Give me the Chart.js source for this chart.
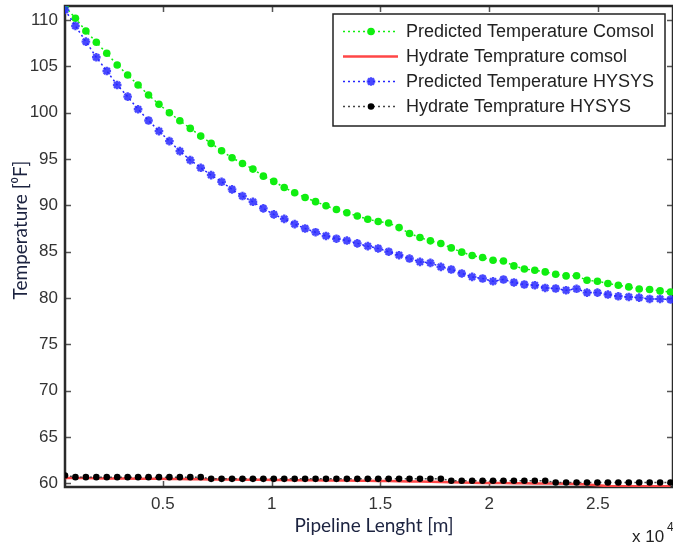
<!DOCTYPE html>
<html>
<head>
<meta charset="utf-8">
<script src="https://cdn.jsdelivr.net/npm/chart.js@4.4.1/dist/chart.umd.min.js"></script>
<style>
  body { margin: 0; background: #fff; }
  #wrap { width: 673px; height: 545px; }
</style>
</head>
<body>
<div id="wrap"><canvas id="chart" width="673" height="545"></canvas></div>
<script>
// distancia a lo largo de la tuberia [m]
const pipeLength = [500, 980, 1460, 1940, 2420, 2900, 3380, 3860, 4340, 4820,
  5300, 5780, 6260, 6740, 7220, 7700, 8180, 8660, 9140, 9620,
  10100, 10580, 11060, 11540, 12020, 12500, 12980, 13460, 13940, 14420,
  14900, 15380, 15860, 16340, 16820, 17300, 17780, 18260, 18740, 19220,
  19700, 20180, 20660, 21140, 21620, 22100, 22580, 23060, 23540, 24020,
  24500, 24980, 25460, 25940, 26420, 26900, 27380, 27860, 28340];

const tempComsol = [111.44, 110.18, 108.81, 107.59, 106.40, 105.14, 104.06, 102.98, 101.90, 100.90,
  99.99, 99.13, 98.30, 97.47, 96.68, 95.88, 95.13, 94.52, 93.91, 93.15,
  92.58, 91.93, 91.35, 90.85, 90.4, 89.95, 89.55, 89.2, 88.85, 88.5,
  88.25, 88.1, 87.6, 86.97, 86.53, 86.17, 85.89, 85.41, 84.95, 84.59,
  84.37, 84.08, 84.0, 83.47, 83.14, 83.0, 82.82, 82.57, 82.39, 82.4,
  81.92, 81.81, 81.57, 81.38, 81.2, 80.98, 80.92, 80.77, 80.66];

const hydrateComsol = [60.6, 60.6, 60.58, 60.56, 60.55, 60.54, 60.53, 60.52, 60.5, 60.5,
  60.48, 60.47, 60.46, 60.45, 60.44, 60.43, 60.42, 60.41, 60.4, 60.39,
  60.38, 60.37, 60.36, 60.35, 60.34, 60.33, 60.32, 60.31, 60.3, 60.29,
  60.28, 60.26, 60.24, 60.22, 60.2, 60.18, 60.15, 60.12, 60.1, 60.08,
  60.06, 60.05, 60.04, 60.03, 60.02, 60.01, 60.0, 60.0, 59.98, 59.95,
  59.9, 59.8, 59.72, 59.7, 59.7, 59.7, 59.7, 59.7, 59.7];

const tempHysys = [111.08, 109.35, 107.66, 105.97, 104.49, 102.98, 101.72, 100.36, 99.15, 98.0,
  96.93, 95.85, 94.88, 94.05, 93.26, 92.54, 91.72, 91.0, 90.38, 89.67,
  89.02, 88.54, 87.97, 87.5, 87.1, 86.7, 86.4, 86.2, 85.9, 85.6,
  85.35, 85.0, 84.62, 84.26, 83.90, 83.79, 83.36, 83.08, 82.65, 82.28,
  82.11, 81.81, 82.0, 81.68, 81.46, 81.38, 81.09, 81.03, 80.84, 81.0,
  80.59, 80.59, 80.38, 80.19, 80.12, 80.05, 79.9, 79.9, 79.84];

const hydrateHysys = [60.86, 60.68, 60.68, 60.68, 60.68, 60.68, 60.68, 60.68, 60.68, 60.68,
  60.68, 60.68, 60.68, 60.68, 60.5, 60.5, 60.5, 60.5, 60.5, 60.5,
  60.5, 60.5, 60.5, 60.5, 60.5, 60.5, 60.5, 60.5, 60.5, 60.5,
  60.5, 60.5, 60.5, 60.5, 60.5, 60.5, 60.5, 60.3, 60.3, 60.3,
  60.3, 60.3, 60.3, 60.3, 60.3, 60.3, 60.3, 60.1, 60.1, 60.1,
  60.1, 60.1, 60.1, 60.1, 60.1, 60.1, 60.1, 60.1, 60.1];

const xTicks = [5000, 10000, 15000, 20000, 25000];
const xTickLabels = ['0.5', '1', '1.5', '2', '2.5'];
const yTicks = [60, 65, 70, 75, 80, 85, 90, 95, 100, 105, 110];

const seriesLabels = ['Predicted Temperature Comsol', 'Hydrate Temprature comsol',
  'Predicted Temperature HYSYS', 'Hydrate Temprature HYSYS'];

const puntos = (arr) => pipeLength.map((x, i) => ({ x: x, y: arr[i] }));

const GREEN = '#10ee10';
const RED = 'rgb(255,70,70)';
const BLUE = '#2424ff';
const BLACK = '#000000';

// marco estilo matlab, ticks hacia adentro, leyenda y titulos
const marco = {
  id: 'marco',
  beforeDatasetsDraw(chart) {
    const { ctx, chartArea: a, scales: { x, y } } = chart;
    ctx.save();
    ctx.strokeStyle = '#555';
    ctx.lineWidth = 1.5;
    ctx.beginPath();
    xTicks.forEach(v => {
      const px = Math.round(x.getPixelForValue(v)) + 0.5;
      ctx.moveTo(px, a.bottom); ctx.lineTo(px, a.bottom - 6);
      ctx.moveTo(px, a.top); ctx.lineTo(px, a.top + 6);
    });
    yTicks.forEach(v => {
      const py = Math.round(y.getPixelForValue(v)) + 0.5;
      ctx.moveTo(a.left, py); ctx.lineTo(a.left + 6, py);
      ctx.moveTo(a.right, py); ctx.lineTo(a.right - 6, py);
    });
    ctx.stroke();
    ctx.strokeStyle = '#2a2a2a';
    ctx.lineWidth = 2.5;
    ctx.strokeRect(a.left, a.top, a.right - a.left, a.bottom - a.top);
    ctx.restore();
  },
  afterDraw(chart) {
    const { ctx } = chart;
    ctx.save();
    // leyenda
    const lx = 333, ly = 14, lw = 332, lh = 112;
    ctx.fillStyle = '#fff';
    ctx.fillRect(lx, ly, lw, lh);
    ctx.strokeStyle = '#222';
    ctx.lineWidth = 1.5;
    ctx.strokeRect(lx, ly, lw, lh);
    chart.data.datasets.forEach((ds, k) => {
      const ry = 31.5 + 25 * k;
      ctx.strokeStyle = ds.borderColor;
      ctx.lineWidth = ds.borderWidth;
      ctx.setLineDash(ds.borderDash || []);
      ctx.beginPath();
      ctx.moveTo(343, ry); ctx.lineTo(398, ry);
      ctx.stroke();
      ctx.setLineDash([]);
      if (ds.pointRadius > 0) {
        if (ds.pointStyle === 'star') {
          const r = ds.pointRadius;
          ctx.strokeStyle = ds.pointBorderColor;
          ctx.lineWidth = ds.pointBorderWidth;
          ctx.beginPath();
          for (let j = 0; j < 4; j++) {
            const ang = j * Math.PI / 4;
            ctx.moveTo(371 - r * Math.cos(ang), ry - r * Math.sin(ang));
            ctx.lineTo(371 + r * Math.cos(ang), ry + r * Math.sin(ang));
          }
          ctx.stroke();
        } else {
          ctx.fillStyle = ds.pointBackgroundColor;
          ctx.beginPath();
          ctx.arc(371, ry, ds.pointRadius, 0, Math.PI * 2);
          ctx.fill();
        }
      }
      ctx.fillStyle = '#222';
      ctx.font = '18px "Liberation Sans", Arial, sans-serif';
      ctx.textBaseline = 'middle';
      ctx.textAlign = 'left';
      ctx.fillText(ds.label, 406, ry + 1);
    });

    // titulos de ejes
    ctx.fillStyle = '#1c2340';
    ctx.font = '19px Lato, "Open Sans", sans-serif';
    ctx.textAlign = 'center';
    ctx.textBaseline = 'middle';
    ctx.fillText('Pipeline Lenght [m]', 374, 526);
    ctx.save();
    ctx.translate(21, 230);
    ctx.rotate(-Math.PI / 2);
    ctx.fillText('Temperature [\u2070F]', 0, 0);
    ctx.restore();

    // factor de escala del eje x
    ctx.fillStyle = '#222';
    ctx.font = '17px "Liberation Sans", Arial, sans-serif';
    ctx.textAlign = 'left';
    ctx.textBaseline = 'alphabetic';
    ctx.fillText('x 10', 632, 542);
    ctx.font = '12px "Liberation Sans", Arial, sans-serif';
    ctx.fillText('4', 667, 531);
    ctx.restore();
  }
};

const ctx = document.getElementById('chart').getContext('2d');
const grafico = new Chart(ctx, {
  type: 'line',
  data: {
    datasets: [
      {
        label: seriesLabels[0], data: puntos(tempComsol),
        borderColor: GREEN, borderWidth: 1.5, borderDash: [2, 3],
        pointStyle: 'circle', pointRadius: 3.8, pointBackgroundColor: GREEN,
        pointBorderColor: GREEN, pointBorderWidth: 0, order: 4
      },
      {
        label: seriesLabels[1], data: puntos(hydrateComsol),
        borderColor: RED, borderWidth: 2.5,
        pointRadius: 0, order: 3
      },
      {
        label: seriesLabels[2], data: puntos(tempHysys),
        borderColor: BLUE, borderWidth: 1.5, borderDash: [2, 3],
        pointStyle: 'star', pointRadius: 4.3, pointBackgroundColor: BLUE,
        pointBorderColor: 'rgba(40,40,255,0.85)', pointBorderWidth: 2.4, order: 2
      },
      {
        label: seriesLabels[3], data: puntos(hydrateHysys),
        borderColor: '#444', borderWidth: 1.5, borderDash: [2, 3],
        pointStyle: 'circle', pointRadius: 3.3, pointBackgroundColor: BLACK,
        pointBorderColor: BLACK, pointBorderWidth: 0, order: 1
      }
    ]
  },
  options: {
    responsive: false,
    animation: false,
    events: [],
    layout: { autoPadding: false, padding: { top: 6, right: 0, left: 0, bottom: 0 } },
    plugins: { legend: { display: false }, tooltip: { enabled: false } },
    elements: { line: { tension: 0 } },
    scales: {
      x: {
        type: 'linear', min: 500, max: 28454,
        grid: { display: false, drawTicks: false },
        border: { display: false },
        afterBuildTicks: s => { s.ticks = xTicks.map(v => ({ value: v })); },
        afterFit: s => { s.height = 58; s.paddingLeft = 0; s.paddingRight = 0; },
        ticks: {
          padding: 7, color: '#333', maxRotation: 0, autoSkip: false,
          font: { family: '"Liberation Sans", Arial, sans-serif', size: 17 },
          callback: (v) => xTickLabels[xTicks.indexOf(v)]
        }
      },
      y: {
        min: 59.62, max: 111.5,
        grid: { display: false, drawTicks: false },
        border: { display: false },
        afterBuildTicks: s => { s.ticks = yTicks.map(v => ({ value: v })); },
        afterFit: s => { s.width = 65; s.paddingTop = 0; s.paddingBottom = 0; },
        ticks: {
          padding: 7, color: '#333', autoSkip: false,
          font: { family: '"Liberation Sans", Arial, sans-serif', size: 17 }
        }
      }
    }
  },
  plugins: [marco]
});
</script>
</body>
</html>
